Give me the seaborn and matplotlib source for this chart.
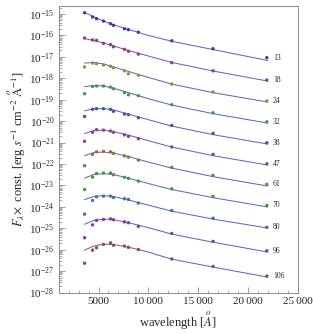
import colorsys
import numpy as np
import pandas as pd
import matplotlib
matplotlib.use("Agg")
import matplotlib.pyplot as plt
import matplotlib.ticker as mticker
import seaborn as sns

# ---------------- data ----------------
series = ["13", "18", "24", "32", "38", "47", "61", "70", "80", "96", "106"]
wavelengths = [3600, 4400, 4800, 5500, 6200, 6500, 7600, 8000, 9000, 12350, 16500, 21900]

# log10 of observed flux (times constant) for each series
logflux_13 = [-14.94, -15.14, -15.22, -15.33, -15.45, -15.53, -15.69, -15.73, -15.85, -16.25, -16.62, -17.04]
logflux_18 = [-16.12, -16.21, -16.23, -16.37, -16.43, -16.53, -16.65, -16.74, -16.87, -17.27, -17.65, -18.08]
logflux_24 = [-17.47, -17.29, -17.32, -17.38, -17.44, -17.51, -17.65, -17.79, -17.86, -18.27, -18.64, -19.06]
logflux_32 = [-18.72, -18.38, -18.36, -18.36, -18.41, -18.49, -18.67, -18.77, -18.81, -19.23, -19.61, -20.03]
logflux_38 = [-19.78, -19.45, -19.42, -19.42, -19.45, -19.54, -19.67, -19.70, -19.84, -20.20, -20.57, -21.01]
logflux_47 = [-20.94, -20.52, -20.40, -20.42, -20.46, -20.52, -20.64, -20.71, -20.82, -21.20, -21.55, -21.99]
logflux_61 = [-22.08, -21.55, -21.43, -21.41, -21.43, -21.50, -21.62, -21.68, -21.82, -22.16, -22.53, -22.95]
logflux_70 = [-23.19, -22.61, -22.44, -22.42, -22.42, -22.50, -22.62, -22.67, -22.80, -23.16, -23.51, -23.93]
logflux_80 = [-24.34, -23.70, -23.53, -23.50, -23.50, -23.56, -23.62, -23.65, -23.82, -24.17, -24.53, -24.95]
logflux_96 = [-25.44, -24.84, -24.63, -24.59, -24.56, -24.60, -24.70, -24.74, -24.91, -25.24, -25.61, -26.05]
logflux_106 = [-26.63, -26.02, -25.91, -25.75, -25.68, -25.79, -25.83, -25.89, -25.99, -26.43, -26.78, -27.23]

# fitted model curves (log10), read at these wavelengths
fit_wavelengths = [3600, 4500, 5500, 6500, 8000, 10000, 12350, 16500, 22000]
fit_13 = [-14.93, -15.12, -15.33, -15.50, -15.72, -16.00, -16.27, -16.66, -17.17]
fit_18 = [-16.14, -16.24, -16.35, -16.49, -16.70, -16.96, -17.26, -17.66, -18.13]
fit_24 = [-17.29, -17.26, -17.33, -17.47, -17.68, -17.96, -18.27, -18.67, -19.11]
fit_32 = [-18.39, -18.34, -18.36, -18.46, -18.67, -18.95, -19.25, -19.65, -20.09]
fit_38 = [-19.52, -19.42, -19.41, -19.48, -19.67, -19.93, -20.23, -20.63, -21.07]
fit_47 = [-20.58, -20.44, -20.42, -20.49, -20.65, -20.91, -21.21, -21.61, -22.05]
fit_61 = [-21.61, -21.47, -21.44, -21.49, -21.65, -21.91, -22.19, -22.59, -23.03]
fit_70 = [-22.66, -22.49, -22.45, -22.49, -22.66, -22.91, -23.19, -23.57, -24.01]
fit_80 = [-23.66, -23.52, -23.47, -23.52, -23.68, -23.92, -24.20, -24.57, -24.99]
fit_96 = [-24.81, -24.64, -24.57, -24.60, -24.74, -24.97, -25.27, -25.65, -26.11]
fit_106 = [-26.02, -25.83, -25.74, -25.76, -25.88, -26.11, -26.44, -26.81, -27.28]

obs = [logflux_13, logflux_18, logflux_24, logflux_32, logflux_38, logflux_47,
       logflux_61, logflux_70, logflux_80, logflux_96, logflux_106]
fits = [fit_13, fit_18, fit_24, fit_32, fit_38, fit_47,
        fit_61, fit_70, fit_80, fit_96, fit_106]

# ---------------- styling ----------------
hues = [0.67, 0.906, 0.142, 0.378, 0.614, 0.850, 0.086, 0.322, 0.559, 0.795, 0.031]
palette = {s: colorsys.hsv_to_rgb(h, 0.6, 0.6) for s, h in zip(series, hues)}
fit_color = "#6464c8"
frame_color = "#8c8c8c"

sns.set_style("ticks")
plt.rcParams["font.family"] = ["Liberation Serif", "DejaVu Serif"]
plt.rcParams["mathtext.fontset"] = "stix"

pts = pd.DataFrame([
    {"wavelength": w, "flux": 10.0 ** v, "series": s}
    for s, vals in zip(series, obs) for w, v in zip(wavelengths, vals)
])
lines = pd.DataFrame([
    {"wavelength": w, "flux": 10.0 ** v, "series": s}
    for s, vals in zip(series, fits) for w, v in zip(fit_wavelengths, vals)
])

fig = plt.figure(figsize=(3.13, 3.34), dpi=100)
ax = fig.add_axes([0.1875, 0.124, 0.7636, 0.858])

sns.lineplot(data=lines, x="wavelength", y="flux", units="series", estimator=None,
             color=fit_color, linewidth=0.75, ax=ax, legend=False)
sns.scatterplot(data=pts, x="wavelength", y="flux", hue="series", palette=palette,
                s=6, linewidth=0, ax=ax, legend=False, zorder=3)

ax.set_yscale("log")
ax.set_xlim(1000, 25000)
ax.set_ylim(1e-28, 10 ** (-14.627))

ax.yaxis.set_major_locator(mticker.FixedLocator([10.0 ** e for e in range(-28, -14)]))
ax.yaxis.set_major_formatter(mticker.LogFormatterMathtext(base=10))
ax.yaxis.set_minor_locator(mticker.LogLocator(base=10, subs=np.arange(2, 10), numticks=30))
ax.yaxis.set_minor_formatter(mticker.NullFormatter())
ax.xaxis.set_major_locator(mticker.FixedLocator([5000, 10000, 15000, 20000, 25000]))
ax.xaxis.set_major_formatter(mticker.FuncFormatter(
    lambda v, p: f"{int(v)}" if v < 10000 else f"{int(v)//1000}\u2009{int(v)%1000:03d}"))
ax.xaxis.set_minor_locator(mticker.MultipleLocator(1000))

ax.tick_params(axis="both", which="both", direction="in", color=frame_color,
               labelsize=8, top=False, right=False)
ax.tick_params(axis="both", which="major", length=4, width=0.6, pad=3)
ax.tick_params(axis="both", which="minor", length=2, width=0.5)
for sp in ax.spines.values():
    sp.set_color(frame_color)
    sp.set_linewidth(0.7)
    sp.set_visible(True)

ax.set_xlabel(r"wavelength [$\overset{o}{A}$]", fontsize=9, labelpad=3)
ax.set_ylabel(r"$F_{\lambda}\!\times$ const. [erg $s^{-1}$ cm$^{-2}$ $\overset{o}{\mathrm{A}}^{-1}$]",
              fontsize=9, labelpad=1)

for s, vals in zip(series, obs):
    ax.text(22500, 10.0 ** vals[-1], s, fontsize=5.5, ha="left", va="center")

fig.savefig("out.png", dpi=100)
